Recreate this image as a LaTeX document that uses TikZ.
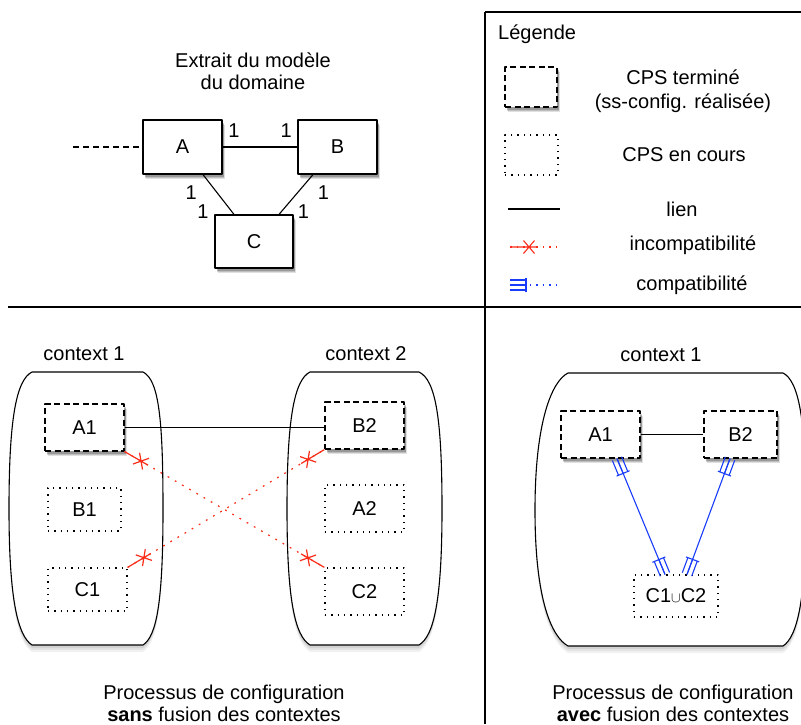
\documentclass[tikz,border=0pt]{standalone}
\usepackage{fontspec}
\setmainfont{Liberation Sans}
\usepackage{tikz}
\usetikzlibrary{decorations.markings,shadows}
\definecolor{rouge}{RGB}{250,45,25}
\definecolor{bleu}{RGB}{25,60,250}
\newcommand{\croix}{\draw[solid] (-19pt,0pt) -- (8pt,0pt) (-5.5pt,-6.5pt) -- (5.5pt,6.5pt) (-5.5pt,6.5pt) -- (5.5pt,-6.5pt);}
\newcommand{\fourche}{\draw[solid] (0pt,-7pt) -- (0pt,7pt) (-16pt,0pt) -- (0pt,0pt) (-16pt,-5pt) -- (0pt,-5pt) (-16pt,5pt) -- (0pt,5pt);}

\begin{document}
\begin{tikzpicture}[x=1pt, y=-1pt, line join=round,
        every node/.style={font=\fontsize{20}{22}\selectfont},
        ombre/.style={
            drop shadow={shadow xshift=2.5pt, shadow yshift=-5pt, opacity=0.12, fill=black},
            drop shadow={shadow xshift=2pt, shadow yshift=-4pt, opacity=0.15, fill=black},
            drop shadow={shadow xshift=1.5pt, shadow yshift=-3pt, opacity=0.2, fill=black}},
        classe/.style={rectangle, draw, fill=white, line width=1.2pt, minimum width=79pt, minimum height=54pt, inner sep=0pt, ombre},
        termine/.style={rectangle, draw, fill=white, line width=1.2pt, dash pattern=on 6pt off 3.5pt, minimum width=79pt, minimum height=47pt, inner sep=0pt, ombre},
        encours/.style={rectangle, draw, fill=white, line width=1.2pt, dash pattern=on 1.3pt off 5pt, minimum width=79pt, minimum height=47pt, inner sep=0pt},
        contexte/.style={draw, fill=white, line width=1.1pt,
            drop shadow={shadow xshift=0pt, shadow yshift=-7pt, opacity=0.05, fill=black},
            drop shadow={shadow xshift=0pt, shadow yshift=-5pt, opacity=0.06, fill=black},
            drop shadow={shadow xshift=0pt, shadow yshift=-3pt, opacity=0.08, fill=black}},
        lien/.style={line width=1.1pt},
        mult/.style={inner sep=1pt},
        croix debut/.style={postaction={decorate, decoration={markings, mark=at position 19pt with {\croix}}}},
        croix fin/.style={postaction={decorate, decoration={markings, mark=at position -19pt with {\begin{scope}[xscale=-1]\croix\end{scope}}}}},
        fourche debut/.style={postaction={decorate, decoration={markings, mark=at position 16pt with {\fourche}}}},
        fourche fin/.style={postaction={decorate, decoration={markings, mark=at position -16pt with {\begin{scope}[xscale=-1]\fourche\end{scope}}}}},
        demi incompat/.style={color=rouge, line width=1.1pt, dash pattern=on 1.5pt off 5pt, croix debut},
        incompat/.style={color=rouge, line width=1.2pt, dash pattern=on 1.8pt off 6.5pt, croix debut, croix fin},
        demi compat/.style={color=bleu, line width=1.1pt, dash pattern=on 1.5pt off 5pt, fourche debut},
        compat/.style={color=bleu, line width=1.1pt, fourche debut, fourche fin}
    ]
        \useasboundingbox (0,0) rectangle (801,724);

        % Cadres
        \draw[line width=1.8pt] (8,307) -- (801,307);
        \draw[line width=1.8pt] (485,12) -- (485,724);
        \draw[line width=1.8pt] (485,12) -- (801,12);

        % Extrait du modele
        \node[align=center] (titre) at (253,71) {Extrait du modèle\\du domaine};
        \node[classe] (a) at (182.5,147) {A};
        \node[classe] (b) at (337.5,147) {B};
        \node[classe, minimum width=78pt, minimum height=53pt] (c) at (254,241.5) {C};
        \coordinate (amont) at (73,147);
        \draw[lien, dash pattern=on 6pt off 4pt] (amont) -- (a);
        \draw[lien] (a) -- node[mult, pos=0.15, above=8pt] {1} node[mult, pos=0.85, above=8pt] {1} (b);
        \draw[lien] ([xshift=20.5pt]a.south) -- node[mult, pos=0.46, xshift=-26pt] {1} node[mult, pos=0.93, xshift=-29pt] {1} ([xshift=-20pt]c.north);
        \draw[lien] ([xshift=-24.5pt]b.south) -- node[mult, pos=0.46, xshift=26pt] {1} node[mult, pos=0.93, xshift=22pt] {1} ([xshift=25pt]c.north);

        % Legende
        \node[anchor=west, inner sep=0pt] (legende) at (498,34) {Légende};
        \node[termine, minimum width=52pt, minimum height=40pt] (leg-termine) at (531,87) {};
        \node[align=center, font=\fontsize{20}{24}\selectfont] (leg-termine-txt) at (683,91) {CPS terminé\\(ss-config. réalisée)};
        \node[encours, minimum width=53pt, minimum height=40pt] (leg-encours) at (531.5,155) {};
        \node (leg-encours-txt) at (684,155) {CPS en cours};
        \coordinate (leg-lien-a) at (508,209);
        \coordinate (leg-lien-b) at (560,209);
        \draw[lien] (leg-lien-a) -- (leg-lien-b);
        \node (leg-lien-txt) at (682,209) {lien};
        \coordinate (leg-incompat-a) at (510,247);
        \coordinate (leg-incompat-b) at (557,247);
        \draw[demi incompat] (leg-incompat-a) -- (leg-incompat-b);
        \node (leg-incompat-txt) at (693,245) {incompatibilité};
        \coordinate (leg-compat-a) at (510,285);
        \coordinate (leg-compat-b) at (557,285);
        \draw[demi compat] (leg-compat-a) -- (leg-compat-b);
        \node (leg-compat-txt) at (692,285) {compatibilité};

        % Sans fusion
        \draw[contexte] (32,372) -- (143,372) .. controls (159,380) and (163,420) .. (163,509) .. controls (163,600) and (157,636) .. (143,645) -- (32,645) .. controls (18,636) and (9,600) .. (9,509) .. controls (9,420) and (16,380) .. (32,372) -- cycle;
        \draw[contexte] (310,372) -- (419,372) .. controls (436,380) and (442,420) .. (442,509) .. controls (442,600) and (434,636) .. (419,645) -- (310,645) .. controls (295,636) and (287,600) .. (287,509) .. controls (287,420) and (294,380) .. (310,372) -- cycle;
        \node (ctx1) at (84,354) {context 1};
        \node (ctx2) at (366,354) {context 2};
        \node[termine] (sans-a1) at (84.5,427.5) {A1};
        \node[encours, minimum width=73pt, minimum height=43pt] (sans-b1) at (84.5,509.5) {B1};
        \node[encours, minimum height=43pt] (sans-c1) at (87.5,589.5) {C1};
        \node[termine] (sans-b2) at (364.5,425.5) {B2};
        \node[encours] (sans-a2) at (364.5,508.5) {A2};
        \node[encours] (sans-c2) at (364.5,591.5) {C2};
        \draw[lien] (sans-a1.east) -- (sans-a1.east -| sans-b2.west);
        \draw[incompat] (sans-a1.south east) -- (sans-c2.north west);
        \draw[incompat] (sans-c1.north east) -- (sans-b2.south west);
        \node[align=center] (sans-txt) at (224,703) {Processus de configuration\\\textbf{sans} fusion des contextes};

        % Avec fusion
        \draw[contexte] (568,373) -- (783,373) .. controls (799,381) and (806,421) .. (806,510) .. controls (806,601) and (797,637) .. (783,646) -- (568,646) .. controls (552,637) and (535,601) .. (535,510) .. controls (535,421) and (552,381) .. (568,373) -- cycle;
        \node (ctx-fusion) at (661,355) {context 1};
        \node[termine] (avec-a1) at (600.5,434.5) {A1};
        \node[termine, minimum width=73pt] (avec-b2) at (740.5,434.5) {B2};
        \node[encours, minimum width=84pt, minimum height=42pt] (avec-c12) at (676,596) {C1$\scriptstyle\cup$C2};
        \draw[lien] (avec-a1) -- (avec-b2);
        \draw[compat] ([xshift=16.5pt]avec-a1.south) -- ([xshift=-11pt]avec-c12.north);
        \draw[compat] ([xshift=-10.5pt]avec-b2.south) -- ([xshift=11pt]avec-c12.north);
        \node[align=center] (avec-txt) at (673,703) {Processus de configuration\\\textbf{avec} fusion des contextes};
    \end{tikzpicture}
\end{document}
